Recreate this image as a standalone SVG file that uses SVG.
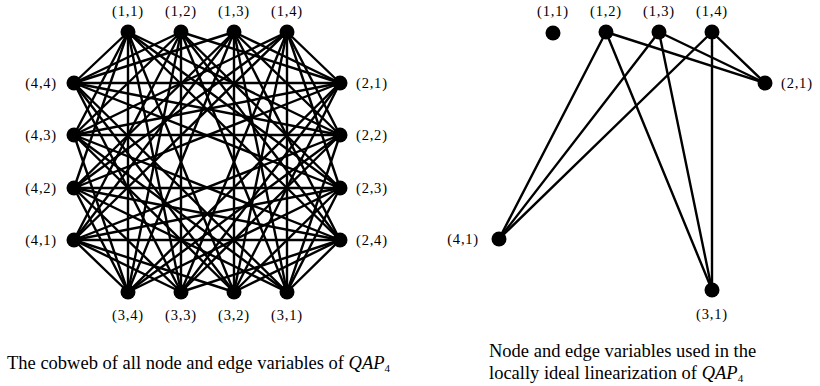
<svg xmlns="http://www.w3.org/2000/svg" width="820" height="386" viewBox="0 0 820 386">
<style>
.e{stroke:#000;stroke-width:2.4;stroke-linecap:round;fill:none}
.n{fill:#000}
text{font-family:"Liberation Serif","DejaVu Serif",serif;fill:#000}
.l{font-size:14.5px;letter-spacing:0.8px}
.c{font-size:18.5px}
.s{font-size:11px}
</style>
<rect width="820" height="386" fill="#fff"/>
<g id="connectors-left" class="e">
<line x1="128" y1="32" x2="340" y2="135"/><line x1="128" y1="32" x2="340" y2="188"/><line x1="128" y1="32" x2="340" y2="240"/>
<line x1="181" y1="32" x2="340" y2="83"/><line x1="181" y1="32" x2="340" y2="188"/><line x1="181" y1="32" x2="340" y2="240"/>
<line x1="234" y1="32" x2="340" y2="83"/><line x1="234" y1="32" x2="340" y2="135"/><line x1="234" y1="32" x2="340" y2="240"/>
<line x1="287" y1="32" x2="340" y2="83"/><line x1="287" y1="32" x2="340" y2="135"/><line x1="287" y1="32" x2="340" y2="188"/>
<line x1="128" y1="32" x2="234" y2="292"/><line x1="128" y1="32" x2="181" y2="292"/><line x1="128" y1="32" x2="128" y2="292"/>
<line x1="181" y1="32" x2="287" y2="292"/><line x1="181" y1="32" x2="181" y2="292"/><line x1="181" y1="32" x2="128" y2="292"/>
<line x1="234" y1="32" x2="287" y2="292"/><line x1="234" y1="32" x2="234" y2="292"/><line x1="234" y1="32" x2="128" y2="292"/>
<line x1="287" y1="32" x2="287" y2="292"/><line x1="287" y1="32" x2="234" y2="292"/><line x1="287" y1="32" x2="181" y2="292"/>
<line x1="128" y1="32" x2="74" y2="188"/><line x1="128" y1="32" x2="74" y2="135"/><line x1="128" y1="32" x2="74" y2="83"/>
<line x1="181" y1="32" x2="74" y2="240"/><line x1="181" y1="32" x2="74" y2="135"/><line x1="181" y1="32" x2="74" y2="83"/>
<line x1="234" y1="32" x2="74" y2="240"/><line x1="234" y1="32" x2="74" y2="188"/><line x1="234" y1="32" x2="74" y2="83"/>
<line x1="287" y1="32" x2="74" y2="240"/><line x1="287" y1="32" x2="74" y2="188"/><line x1="287" y1="32" x2="74" y2="135"/>
<line x1="340" y1="83" x2="234" y2="292"/><line x1="340" y1="83" x2="181" y2="292"/><line x1="340" y1="83" x2="128" y2="292"/>
<line x1="340" y1="135" x2="287" y2="292"/><line x1="340" y1="135" x2="181" y2="292"/><line x1="340" y1="135" x2="128" y2="292"/>
<line x1="340" y1="188" x2="287" y2="292"/><line x1="340" y1="188" x2="234" y2="292"/><line x1="340" y1="188" x2="128" y2="292"/>
<line x1="340" y1="240" x2="287" y2="292"/><line x1="340" y1="240" x2="234" y2="292"/><line x1="340" y1="240" x2="181" y2="292"/>
<line x1="340" y1="83" x2="74" y2="188"/><line x1="340" y1="83" x2="74" y2="135"/><line x1="340" y1="83" x2="74" y2="83"/>
<line x1="340" y1="135" x2="74" y2="240"/><line x1="340" y1="135" x2="74" y2="135"/><line x1="340" y1="135" x2="74" y2="83"/>
<line x1="340" y1="188" x2="74" y2="240"/><line x1="340" y1="188" x2="74" y2="188"/><line x1="340" y1="188" x2="74" y2="83"/>
<line x1="340" y1="240" x2="74" y2="240"/><line x1="340" y1="240" x2="74" y2="188"/><line x1="340" y1="240" x2="74" y2="135"/>
<line x1="287" y1="292" x2="74" y2="188"/><line x1="287" y1="292" x2="74" y2="135"/><line x1="287" y1="292" x2="74" y2="83"/>
<line x1="234" y1="292" x2="74" y2="240"/><line x1="234" y1="292" x2="74" y2="135"/><line x1="234" y1="292" x2="74" y2="83"/>
<line x1="181" y1="292" x2="74" y2="240"/><line x1="181" y1="292" x2="74" y2="188"/><line x1="181" y1="292" x2="74" y2="83"/>
<line x1="128" y1="292" x2="74" y2="240"/><line x1="128" y1="292" x2="74" y2="188"/><line x1="128" y1="292" x2="74" y2="135"/>
</g>
<g id="connectors-right" class="e">
<line x1="606" y1="32" x2="765" y2="83"/><line x1="659" y1="32" x2="765" y2="83"/><line x1="712" y1="32" x2="765" y2="83"/>
<line x1="606" y1="32" x2="499" y2="239"/><line x1="659" y1="32" x2="499" y2="239"/><line x1="712" y1="32" x2="499" y2="239"/>
<line x1="606" y1="32" x2="712" y2="290"/><line x1="659" y1="32" x2="712" y2="290"/><line x1="712" y1="32" x2="712" y2="290"/>
</g>
<g id="L11"><circle class="n" cx="128" cy="32" r="7.5"/><text class="l" x="128" y="16" text-anchor="middle">(1,1)</text></g>
<g id="L12"><circle class="n" cx="181" cy="32" r="7.5"/><text class="l" x="181" y="16" text-anchor="middle">(1,2)</text></g>
<g id="L13"><circle class="n" cx="234" cy="32" r="7.5"/><text class="l" x="234" y="16" text-anchor="middle">(1,3)</text></g>
<g id="L14"><circle class="n" cx="287" cy="32" r="7.5"/><text class="l" x="287" y="16" text-anchor="middle">(1,4)</text></g>
<g id="L21"><circle class="n" cx="340" cy="83" r="7.5"/><text class="l" x="356" y="88">(2,1)</text></g>
<g id="L22"><circle class="n" cx="340" cy="135" r="7.5"/><text class="l" x="356" y="140">(2,2)</text></g>
<g id="L23"><circle class="n" cx="340" cy="188" r="7.5"/><text class="l" x="356" y="193">(2,3)</text></g>
<g id="L24"><circle class="n" cx="340" cy="240" r="7.5"/><text class="l" x="356" y="245">(2,4)</text></g>
<g id="L31"><circle class="n" cx="287" cy="292" r="7.5"/><text class="l" x="287" y="320" text-anchor="middle">(3,1)</text></g>
<g id="L32"><circle class="n" cx="234" cy="292" r="7.5"/><text class="l" x="234" y="320" text-anchor="middle">(3,2)</text></g>
<g id="L33"><circle class="n" cx="181" cy="292" r="7.5"/><text class="l" x="181" y="320" text-anchor="middle">(3,3)</text></g>
<g id="L34"><circle class="n" cx="128" cy="292" r="7.5"/><text class="l" x="128" y="320" text-anchor="middle">(3,4)</text></g>
<g id="L41"><circle class="n" cx="74" cy="240" r="7.5"/><text class="l" x="57" y="245" text-anchor="end">(4,1)</text></g>
<g id="L42"><circle class="n" cx="74" cy="188" r="7.5"/><text class="l" x="57" y="193" text-anchor="end">(4,2)</text></g>
<g id="L43"><circle class="n" cx="74" cy="135" r="7.5"/><text class="l" x="57" y="140" text-anchor="end">(4,3)</text></g>
<g id="L44"><circle class="n" cx="74" cy="83" r="7.5"/><text class="l" x="57" y="88" text-anchor="end">(4,4)</text></g>
<g id="R11"><circle class="n" cx="553" cy="33" r="7.5"/><text class="l" x="553" y="16" text-anchor="middle">(1,1)</text></g>
<g id="R12"><circle class="n" cx="606" cy="32" r="7.5"/><text class="l" x="606" y="16" text-anchor="middle">(1,2)</text></g>
<g id="R13"><circle class="n" cx="659" cy="32" r="7.5"/><text class="l" x="659" y="16" text-anchor="middle">(1,3)</text></g>
<g id="R14"><circle class="n" cx="712" cy="32" r="7.5"/><text class="l" x="712" y="16" text-anchor="middle">(1,4)</text></g>
<g id="R21"><circle class="n" cx="765" cy="83" r="7.5"/><text class="l" x="781" y="88">(2,1)</text></g>
<g id="R41"><circle class="n" cx="499" cy="239" r="7.5"/><text class="l" x="479" y="244" text-anchor="end">(4,1)</text></g>
<g id="R31"><circle class="n" cx="712" cy="290" r="7.5"/><text class="l" x="712" y="319" text-anchor="middle">(3,1)</text></g>
<g id="captions">
<text class="c" x="7" y="369">The cobweb of all node and edge variables of <tspan font-style="italic">QAP</tspan><tspan class="s" dy="3">4</tspan></text>
<text class="c" x="489" y="357">Node and edge variables used in the</text>
<text class="c" x="489" y="379">locally ideal linearization of <tspan font-style="italic">QAP</tspan><tspan class="s" dy="3">4</tspan></text>
</g>
</svg>
